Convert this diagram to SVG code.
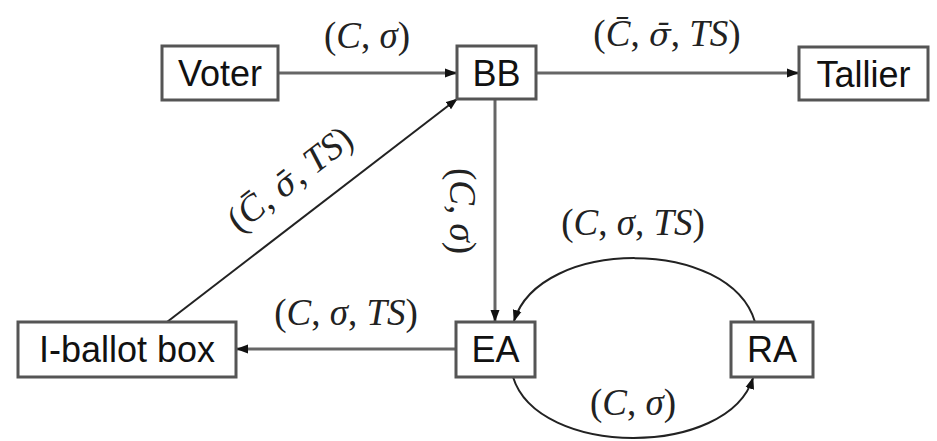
<svg xmlns="http://www.w3.org/2000/svg" width="937" height="441" viewBox="0 0 937 441">
<defs>
<style>
.box{fill:#fff;stroke:#555;stroke-width:3}
.nt{font-family:"Liberation Sans",Arial,sans-serif;font-size:36px;fill:#111;text-anchor:middle}
.lb{font-family:"Liberation Serif","Times New Roman",serif;font-size:37px;fill:#222;text-anchor:middle}
.it{font-style:italic}
.sb{font-family:"DejaVu Serif",serif;font-style:italic;font-size:32px}
.c1{fill:none;stroke:#666;stroke-width:3}
.c2{fill:none;stroke:#222;stroke-width:2}
</style>
<marker id="ah" markerUnits="userSpaceOnUse" markerWidth="12" markerHeight="10" viewBox="0 0 12 10" refX="11" refY="5" orient="auto">
<path d="M0,0.5 L12,5 L0,9.5 Z" fill="#111"/>
</marker>
</defs>
<rect width="937" height="441" fill="#fff"/>
<g id="connectors">
<line class="c1" x1="278" y1="73" x2="456" y2="73" marker-end="url(#ah)"/>
<line class="c1" x1="536" y1="73" x2="798" y2="73" marker-end="url(#ah)"/>
<line class="c1" x1="495" y1="99" x2="495" y2="321" marker-end="url(#ah)"/>
<line class="c1" x1="456" y1="349" x2="237" y2="349" marker-end="url(#ah)"/>
<line class="c2" x1="167" y1="322" x2="457" y2="99" marker-end="url(#ah)"/>
<path class="c2" d="M755,322 C730,237 540,237 514,321" marker-end="url(#ah)"/>
<path class="c2" d="M513,377 C538,458 728,458 753,378" marker-end="url(#ah)"/>
</g>
<g id="labels">
<text class="lb" x="367" y="48">(<tspan class="it">C</tspan>, <tspan class="it">σ</tspan>)</text>
<text class="lb" x="667" y="46">(<tspan class="it">C̄</tspan>, <tspan class="sb">σ̄</tspan>, <tspan class="it">TS</tspan>)</text>
<text class="lb" transform="translate(290,179) rotate(-37.7)" x="0" y="12">(<tspan class="it">C̄</tspan>, <tspan class="sb">σ̄</tspan>, <tspan class="it">TS</tspan>)</text>
<text class="lb" transform="translate(462,211) rotate(90)" x="0" y="12">(<tspan class="it">C</tspan>, <tspan class="it">σ</tspan>)</text>
<text class="lb" x="346" y="325">(<tspan class="it">C</tspan>, <tspan class="it">σ</tspan>, <tspan class="it">TS</tspan>)</text>
<text class="lb" x="633" y="235">(<tspan class="it">C</tspan>, <tspan class="it">σ</tspan>, <tspan class="it">TS</tspan>)</text>
<text class="lb" x="633" y="415">(<tspan class="it">C</tspan>, <tspan class="it">σ</tspan>)</text>
</g>
<g id="voter"><rect class="box" x="162" y="46" width="116" height="54"/><text class="nt" x="220" y="86">Voter</text></g>
<g id="bb"><rect class="box" x="457" y="46" width="79" height="53"/><text class="nt" x="496.5" y="86">BB</text></g>
<g id="tallier"><rect class="box" x="799" y="47" width="129" height="53"/><text class="nt" x="863.5" y="87">Tallier</text></g>
<g id="iballot"><rect class="box" x="18" y="322" width="218" height="55"/><text class="nt" x="127" y="362">I-ballot box</text></g>
<g id="ea"><rect class="box" x="456" y="322" width="79" height="55"/><text class="nt" x="495.5" y="362">EA</text></g>
<g id="ra"><rect class="box" x="731" y="322" width="82" height="55"/><text class="nt" x="772" y="362">RA</text></g>
</svg>
